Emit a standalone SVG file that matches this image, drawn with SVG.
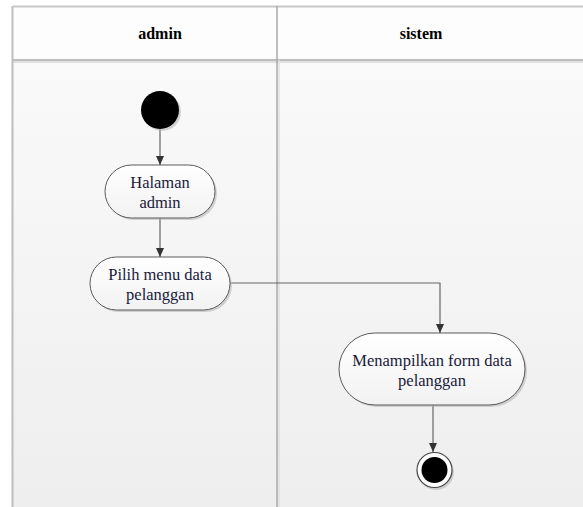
<svg xmlns="http://www.w3.org/2000/svg" width="583" height="507" viewBox="0 0 583 507">
<style>
.lane{fill:url(#laneBg);}
.frame{fill:none;stroke:#c4c4c4;stroke-width:2;}
.hdr{font-family:"Liberation Serif",serif;font-size:16px;font-weight:bold;fill:#000;text-anchor:middle;}
.act{fill:url(#actBg);stroke:#5a5a5a;stroke-width:1;}
.sh{fill:#b8b8b8;opacity:0.6;}
.lbl{font-family:"Liberation Serif",serif;font-size:16.5px;fill:#1a1a3a;text-anchor:middle;}
.conn{fill:none;stroke:#666;stroke-width:1.2;}
</style>
<defs>
<linearGradient id="laneBg" x1="0" y1="0" x2="0" y2="1">
<stop offset="0" stop-color="#fbfbfb"/>
<stop offset="1" stop-color="#eeeeee"/>
</linearGradient>
<linearGradient id="actBg" x1="0" y1="0" x2="0" y2="1">
<stop offset="0" stop-color="#ffffff"/>
<stop offset="1" stop-color="#f2f2f2"/>
</linearGradient>
<marker id="arr" markerWidth="10" markerHeight="10" refX="9" refY="4" orient="auto" markerUnits="userSpaceOnUse">
<path d="M0,0 L9,4 L0,8 Z" fill="#333"/>
</marker>
</defs>
<rect x="0" y="0" width="583" height="507" fill="#ffffff"/>
<g id="swimlanes">
<rect class="lane" x="13" y="7" width="572" height="502"/>
<rect x="13" y="7" width="572" height="53" fill="#fdfdfd"/>
<line x1="13" y1="6.5" x2="583" y2="6.5" stroke="#c8c8c8" stroke-width="2"/>
<line x1="13" y1="60" x2="583" y2="60" stroke="#a8a8a8" stroke-width="1.5"/>
<line x1="13" y1="62" x2="583" y2="62" stroke="#e0e0e0" stroke-width="2"/>
<line x1="12.5" y1="6" x2="12.5" y2="507" stroke="#bdbdbd" stroke-width="2"/>
<line x1="277" y1="6" x2="277" y2="507" stroke="#a9a9a9" stroke-width="1.5"/>
<line x1="279" y1="60" x2="279" y2="507" stroke="#e0e0e0" stroke-width="1.5"/>
<text class="hdr" x="160" y="39">admin</text>
<text class="hdr" x="421" y="39">sistem</text>
</g>
<g id="connectors">
<line class="conn" x1="160" y1="129" x2="160" y2="165" marker-end="url(#arr)"/>
<line class="conn" x1="160" y1="218" x2="160" y2="257" marker-end="url(#arr)"/>
<polyline class="conn" points="230,283 440,283 440,333" marker-end="url(#arr)"/>
<line class="conn" x1="433" y1="405" x2="433" y2="452" marker-end="url(#arr)"/>
</g>
<g id="start">
<circle cx="162" cy="112" r="19" class="sh"/>
<circle cx="160" cy="110" r="19" fill="#000"/>
</g>
<g id="halaman-admin">
<rect class="sh" x="107" y="167" width="110" height="53" rx="26.5"/>
<rect class="act" x="105" y="165" width="110" height="53" rx="26.5"/>
<text class="lbl" x="160" y="188">Halaman</text>
<text class="lbl" x="160" y="208">admin</text>
</g>
<g id="pilih-menu">
<rect class="sh" x="92" y="259" width="140" height="53" rx="26.5"/>
<rect class="act" x="90" y="257" width="140" height="53" rx="26.5"/>
<text class="lbl" x="160" y="280">Pilih menu data</text>
<text class="lbl" x="160" y="300">pelanggan</text>
</g>
<g id="menampilkan-form">
<rect class="sh" x="341" y="335" width="186" height="72" rx="36"/>
<rect class="act" x="339" y="333" width="186" height="72" rx="36"/>
<text class="lbl" x="432" y="366">Menampilkan form data</text>
<text class="lbl" x="432" y="386">pelanggan</text>
</g>
<g id="end">
<circle cx="436" cy="472" r="18" class="sh"/>
<circle cx="434.5" cy="470" r="17.5" fill="#fff" stroke="#444" stroke-width="1.2"/>
<circle cx="434.5" cy="470" r="13" fill="#000"/>
</g>
</svg>
